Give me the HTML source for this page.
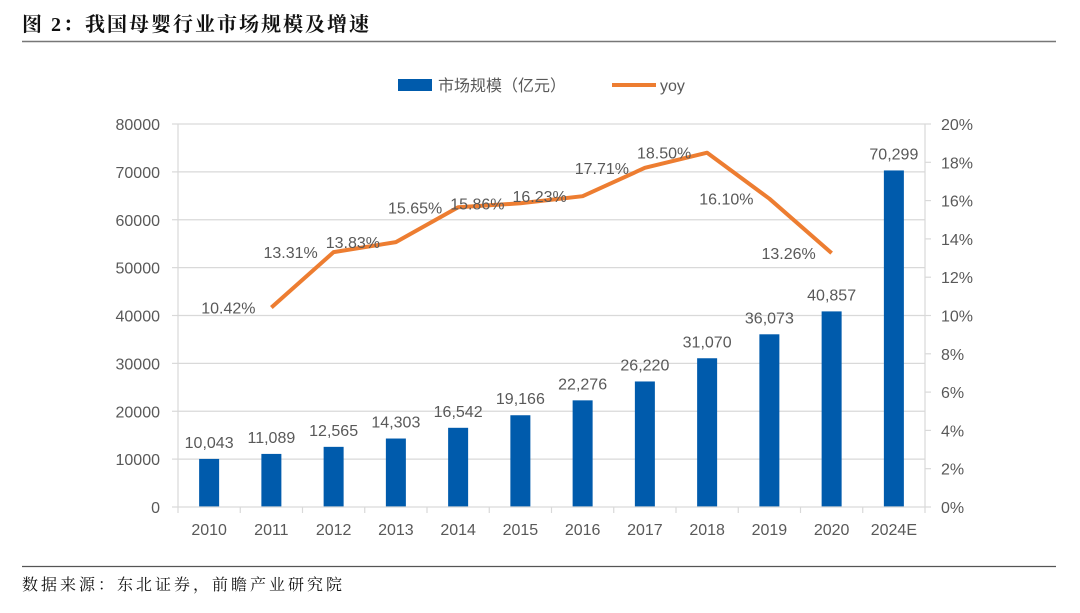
<!DOCTYPE html>
<html><head><meta charset="utf-8"><style>
body{margin:0;background:#fff;}
svg text{font-family:"Liberation Sans","Noto Sans CJK SC",sans-serif;}
</style></head><body>
<svg width="1080" height="608" viewBox="0 0 1080 608">
<text x="22" y="31" font-size="20" font-weight="bold" fill="#111" letter-spacing="2" style="font-family:'Liberation Serif','Noto Serif CJK SC',serif">图 2：我国母婴行业市场规模及增速</text>
<line x1="22" y1="41.5" x2="1056" y2="41.5" stroke="#777" stroke-width="1.5"/>
<g>
<rect x="398" y="79" width="34" height="12" fill="#005BAC"/>
<text x="438" y="91" font-size="16" fill="#595959">市场规模（亿元）</text>
<line x1="612" y1="85" x2="656" y2="85" stroke="#ED7D31" stroke-width="4"/>
<text x="660" y="91" font-size="16" fill="#595959">yoy</text>
</g>
<g id="grid"></g><g id="bars"></g><g id="line"></g><g id="axes"></g>
<line x1="22" y1="566.5" x2="1056" y2="566.5" stroke="#555" stroke-width="1.2"/>
<text x="22" y="590" font-size="16" fill="#111" letter-spacing="3" style="font-family:'Liberation Serif','Noto Serif CJK SC',serif">数据来源：东北证券，前瞻产业研究院</text>
</svg>
<script>
const categories=["2010","2011","2012","2013","2014","2015","2016","2017","2018","2019","2020","2024E"];
const marketSize=[10043,11089,12565,14303,16542,19166,22276,26220,31070,36073,40857,70299];
const yoyCats=["2011","2012","2013","2014","2015","2016","2017","2018","2019","2020"];
const yoyValues=[10.42,13.31,13.83,15.65,15.86,16.23,17.71,18.50,16.10,13.26];
const leftTicks=[0,10000,20000,30000,40000,50000,60000,70000,80000];
const rightTicks=[0,2,4,6,8,10,12,14,16,18,20];
const NS="http://www.w3.org/2000/svg";
const X0=178,X1=925,Y0=507,Y1=124;
const bw=(X1-X0)/categories.length;
const xc=c=>X0+bw*(categories.indexOf(c)+0.5);
const yl=v=>Y0-(v/80000)*(Y0-Y1);
const yr=v=>Y0-(v/20)*(Y0-Y1);
function mk(tag,attrs,parent,text){const e=document.createElementNS(NS,tag);for(const k in attrs)e.setAttribute(k,attrs[k]);if(text!==undefined)e.textContent=text;document.getElementById(parent).appendChild(e);return e;}
leftTicks.forEach(t=>{
 if(t>0){const g=mk("line",{x1:X0,x2:X1,y1:yl(t),y2:yl(t),stroke:"#d9d9d9","stroke-width":1.2},"grid");
 
 }
 const tk=mk("line",{x1:X0-6,x2:X0,y1:yl(t),y2:yl(t),stroke:"#d9d9d9","stroke-width":1.2},"axes");
 
 
 const l=mk("text",{x:X0-18,y:yl(t)+6,"text-anchor":"end","font-size":16,fill:"#595959"},"axes",String(t));
 
 
});
rightTicks.forEach(t=>{
 const tk=mk("line",{x1:X1,x2:X1+6,y1:yr(t),y2:yr(t),stroke:"#d9d9d9","stroke-width":1.2},"axes");
 
 
 const l=mk("text",{x:X1+16,y:yr(t)+6,"font-size":16,fill:"#595959"},"axes",t+"%");
 
 
});
let a=mk("line",{x1:X0,x2:X0,y1:Y1,y2:Y0+6,stroke:"#d9d9d9","stroke-width":1.2},"axes");


a=mk("line",{x1:X1,x2:X1,y1:Y1,y2:Y0,stroke:"#d9d9d9","stroke-width":1.2},"axes");


a=mk("line",{x1:X0,x2:X1,y1:Y0,y2:Y0,stroke:"#d9d9d9","stroke-width":1.2},"axes");


categories.forEach((c,i)=>{
 const tk=mk("line",{x1:X0+bw*(i+1),x2:X0+bw*(i+1),y1:Y0,y2:Y0+6,stroke:"#d9d9d9","stroke-width":1.2},"axes");
 
 
 const l=mk("text",{x:xc(c),y:Y0+28,"text-anchor":"middle","font-size":16,fill:"#595959"},"axes",c);
 
 
 const v=marketSize[i];
 const b=mk("rect",{x:xc(c)-10,y:yl(v),width:20,height:Y0-yl(v),fill:"#005BAC"},"bars");
 
 
 const bl=mk("text",{x:xc(c),y:yl(v)-11,"text-anchor":"middle","font-size":16,fill:"#595959"},"bars",v.toLocaleString("en-US"));
 
 
});
const pts=yoyCats.map((c,i)=>xc(c)+","+yr(yoyValues[i])).join(" ");
const pl=mk("polyline",{points:pts,fill:"none",stroke:"#ED7D31","stroke-width":4,"stroke-linejoin":"round"},"line");


yoyCats.forEach((c,i)=>{
 const l=mk("text",{x:xc(c)-43,y:yr(yoyValues[i])+6,"text-anchor":"middle","font-size":16,fill:"#595959"},"line",yoyValues[i].toFixed(2)+"%");
 
 
});
</script>
</body></html>
